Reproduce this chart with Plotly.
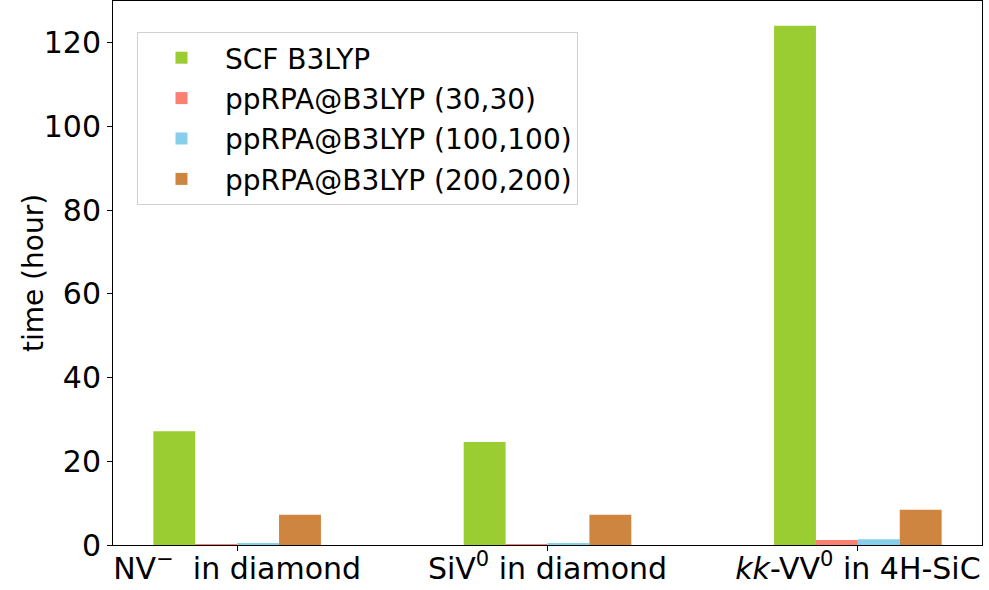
import plotly.graph_objects as go

categories = ["NV<sup>−</sup>\u00a0 in diamond", "SiV<sup>0</sup> in diamond", "<i>kk</i>-VV<sup>0</sup> in 4H-SiC"]
series_names = ["SCF B3LYP", "ppRPA@B3LYP (30,30)", "ppRPA@B3LYP (100,100)", "ppRPA@B3LYP (200,200)"]
scf_b3lyp = [27.2, 24.6, 124.1]
pprpa_30 = [0.2, 0.2, 1.2]
pprpa_100 = [0.5, 0.5, 1.4]
pprpa_200 = [7.2, 7.2, 8.4]
colors = ["#9ACD32", "#FA8072", "#87CEEB", "#CD853F"]
y_ticks = [0, 20, 40, 60, 80, 100, 120]
y_title = "time (hour)"

all_series = [scf_b3lyp, pprpa_30, pprpa_100, pprpa_200]
x = list(range(len(categories)))
w = 0.135

fig = go.Figure()
for i, (name, vals, c) in enumerate(zip(series_names, all_series, colors)):
    fig.add_trace(go.Bar(
        x=x, y=vals, name=name, width=w, offset=-2 * w + i * w,
        marker=dict(color=c, line=dict(width=0)),
        legendgroup=f"g{i}",
    ))

font = "DejaVu Sans, sans-serif"
fig.update_layout(
    width=989, height=590,
    margin=dict(l=113, r=7, t=1, b=45, autoexpand=False),
    plot_bgcolor="white", paper_bgcolor="white",
    font=dict(family=font, size=30, color="black"),
    barmode="overlay",
    showlegend=True,
    legend=dict(
        x=0.0276, y=0.943, xanchor="left", yanchor="top",
        bgcolor="rgba(255,255,255,0.9)", bordercolor="#d0d0d0", borderwidth=1,
        font=dict(size=28, family=font), tracegroupgap=1,
        itemwidth=77,
    ),
    xaxis=dict(
        range=[-0.4, 2.4], tickmode="array", tickvals=x, ticktext=categories,
        showline=True, linecolor="black", linewidth=1, mirror=True,
        ticks="outside", ticklen=5, tickcolor="black",
        showgrid=False, zeroline=False, tickfont=dict(size=30),
        automargin=False, ticklabelstandoff=-8,
    ),
    yaxis=dict(
        range=[0, 130], tickvals=y_ticks,
        showline=True, linecolor="black", linewidth=1, mirror=True,
        ticks="outside", ticklen=5, tickcolor="black",
        showgrid=False, zeroline=False, tickfont=dict(size=30),
        automargin=False,
    ),
    annotations=[dict(
        text=y_title, xref="paper", yref="paper", x=-0.092, y=0.5,
        xanchor="center", yanchor="middle", textangle=-90, showarrow=False,
        font=dict(size=28, family=font, color="black"),
    )],
)

fig.write_html("out.html", config={"displayModeBar": False},
               post_script="document.body.style.margin='0';document.body.style.overflow='hidden';")
